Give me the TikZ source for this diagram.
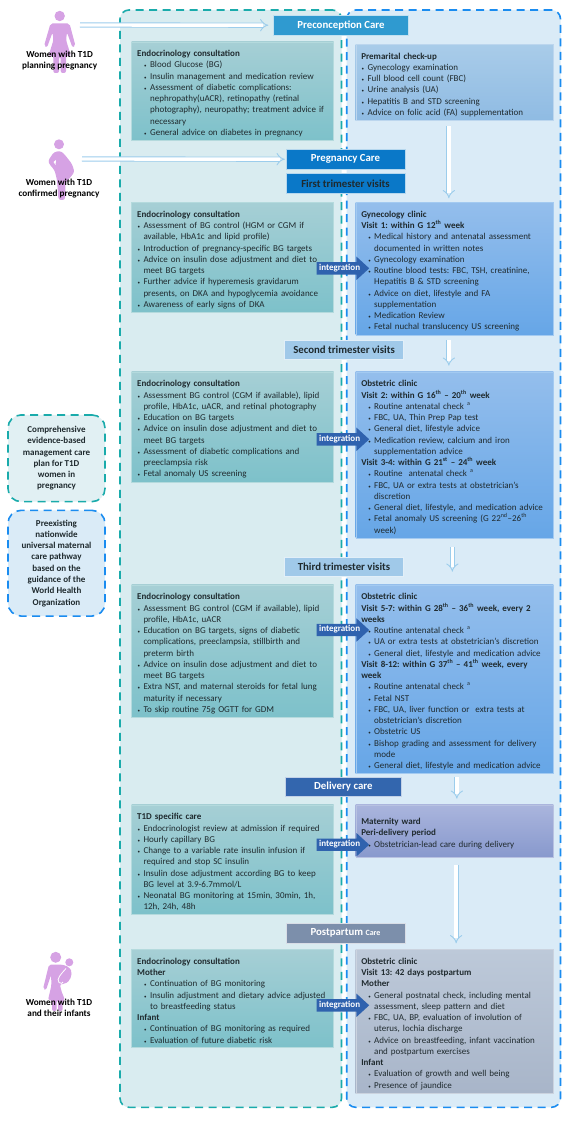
\documentclass[tikz,border=0pt]{standalone}
\usepackage{fontspec}
\setmainfont{Carlito}
\usetikzlibrary{shapes,shapes.arrows,arrows.meta,positioning,calc}
\definecolor{endoline}{HTML}{1AABAB}
\definecolor{obsline}{HTML}{1A8CF0}
\definecolor{endofill}{HTML}{D9ECF0}
\definecolor{obsfill}{HTML}{DAEBF7}
\definecolor{figpink}{HTML}{D6A2E4}
\definecolor{flowblue}{HTML}{9CCDEC}
\definecolor{txtdark}{HTML}{1F2A2E}
\definecolor{integblue}{HTML}{2F62AE}
\definecolor{tealhi}{HTML}{A6CFD5}
\definecolor{teallo}{HTML}{7DC1CA}
\definecolor{tealedge}{HTML}{B4DADD}
\definecolor{prehi}{HTML}{A9CCE9}
\definecolor{prelo}{HTML}{8FBBE3}
\definecolor{clinhi}{HTML}{94BEEC}
\definecolor{clinlo}{HTML}{66A6E7}
\definecolor{wardhi}{HTML}{AAB5DD}
\definecolor{wardlo}{HTML}{8899CD}
\definecolor{posthi}{HTML}{BDC9D9}
\definecolor{postlo}{HTML}{A8B5C9}
\definecolor{headpre}{HTML}{2F9AD0}
\definecolor{headpreg}{HTML}{0A78C8}
\definecolor{headtri}{HTML}{A0C9E9}
\definecolor{headdel}{HTML}{3366AE}
\definecolor{headpost}{HTML}{7C8FAB}
\newcommand{\bitem}[2][6.3pt]{\par\noindent\hangindent=#1\hangafter=0\llap{{\tiny\textbullet}\hspace{3.4pt}}{\let\\\newline #2\par}}
\newcommand{\headline}[1]{\par\noindent{\let\\\newline\bfseries #1\par}}
\newcommand{\sups}[1]{\textsuperscript{#1}}

\begin{document}
\begin{tikzpicture}[x=1pt,y=-1pt,
    endopanel/.style={draw=endoline, line width=1.6pt, dash pattern=on 8pt off 5.5pt, fill=endofill, rounded corners=9pt},
    obspanel/.style={draw=obsline, line width=1.6pt, dash pattern=on 8pt off 5.5pt, fill=obsfill, rounded corners=9pt},
    carebox/.style={anchor=north west, inner xsep=5.6pt, inner ysep=3.6pt, text=txtdark, font=\fontsize{9}{11.25}\selectfont\frenchspacing},
    tealbox/.style={carebox, draw=tealedge, top color=tealhi, bottom color=teallo, text width=190.8pt},
    clinbox/.style n args={2}{carebox, draw=#2!60!white, top color=#1, bottom color=#2, text width=186.5pt},
    heading/.style={minimum height=19.7pt, font=\fontsize{10.8}{12}\selectfont\bfseries, text=white, draw=white!70!#1, line width=.4pt, fill=#1},
    flow/.style={double=white, double distance=3.4pt, line width=.9pt, draw=flowblue, -{Implies[length=6pt]}, shorten >=4pt, shorten <=4pt},
    integ/.style={single arrow, anchor=west, fill=integblue, inner xsep=1pt, inner ysep=2pt, text height=5.8pt, text depth=2.2pt, minimum width=23pt, minimum height=52.5pt, single arrow head extend=5.5pt, single arrow tip angle=85, text=white, font=\fontsize{9}{10}\selectfont\bfseries},
    whois/.style={align=center, text=black, font=\fontsize{9.2}{11.3}\selectfont\bfseries},
    planbox/.style={rounded corners=13pt, line width=1.6pt, dash pattern=on 8pt off 5.5pt, align=center, text=txtdark, minimum width=97pt, font=\fontsize{9}{11.3}\selectfont\bfseries},
]
\useasboundingbox (0,0) rectangle (577,1123);

\node[endopanel, minimum width=221.5pt, minimum height=1097.3pt] (endoPanel) at (230.75,558.65) {};
\node[obspanel, minimum width=213.8pt, minimum height=1097.3pt] (obsPanel) at (453.6,558.65) {};

% left column
\node[tealbox, minimum height=97.3pt] (endoPre) at (131.4,41.7) {%
\headline{Endocrinology consultation}
\bitem[12.9pt]{Blood Glucose (BG)}
\bitem[12.9pt]{Insulin management and medication review}
\bitem[12.9pt]{Assessment of diabetic complications:\\nephropathy(uACR), retinopathy (retinal\\photography), neuropathy; treatment advice if\\necessary}
\bitem[12.9pt]{General advice on diabetes in pregnancy}};

\node[tealbox, minimum height=108pt] (endoFirst) at (131.4,202.3) {%
\headline{Endocrinology consultation}
\bitem{Assessment of BG control (HGM or CGM if\\available, HbA1c and lipid profile)}
\bitem{Introduction of pregnancy-specific BG targets}
\bitem{Advice on insulin dose adjustment and diet to\\meet BG targets}
\bitem{Further advice if hyperemesis gravidarum\\presents, on DKA and hypoglycemia avoidance}
\bitem{Awareness of early signs of DKA}};

\node[tealbox, minimum height=108.3pt] (endoSecond) at (131.4,371.7) {%
\headline{Endocrinology consultation}
\bitem{Assessment BG control (CGM if available), lipid\\profile, HbA1c, uACR, and retinal photography}
\bitem{Education on BG targets}
\bitem{Advice on insulin dose adjustment and diet to\\meet BG targets}
\bitem{Assessment of diabetic complications and\\preeclampsia risk}
\bitem{Fetal anomaly US screening}};

\node[tealbox, minimum height=131pt] (endoThird) at (131.4,584.7) {%
\headline{Endocrinology consultation}
\bitem{Assessment BG control (CGM if available), lipid\\profile, HbA1c, uACR}
\bitem{Education on BG targets, signs of diabetic\\complications, preeclampsia, stillbirth and\\preterm birth}
\bitem{Advice on insulin dose adjustment and diet to\\meet BG targets}
\bitem{Extra NST, and maternal steroids for fetal lung\\maturity if necessary}
\bitem{To skip routine 75g OGTT for GDM}};

\node[tealbox, minimum height=108.6pt] (endoDelivery) at (131.4,804.7) {%
\headline{T1D specific care}
\bitem{Endocrinologist review at admission if required}
\bitem{Hourly capillary BG}
\bitem{Change to a variable rate insulin infusion if\\required and stop SC insulin}
\bitem{Insulin dose adjustment according BG to keep\\BG level at 3.9-6.7mmol/L}
\bitem{Neonatal BG monitoring at 15min, 30min, 1h,\\12h, 24h, 48h}};

\node[tealbox, minimum height=97.4pt] (endoPost) at (131.4,949.3) {%
\headline{Endocrinology consultation}
\headline{Mother}
\bitem[12.9pt]{Continuation of BG monitoring}
\bitem[12.9pt]{Insulin adjustment and dietary advice adjusted\\to breastfeeding status}
\headline{Infant}
\bitem[12.9pt]{Continuation of BG monitoring as required}
\bitem[12.9pt]{Evaluation of future diabetic risk}};

% right column
\node[clinbox={prehi}{prelo}, minimum height=74pt] (preMarital) at (355.5,44) {%
\headline{Premarital check-up}
\bitem{Gynecology examination}
\bitem{Full blood cell count (FBC)}
\bitem{Urine analysis (UA)}
\bitem{Hepatitis B and STD screening}
\bitem{Advice on folic acid (FA) supplementation}};

\node[clinbox={clinhi}{clinlo}, minimum height=131pt] (gynClinic) at (355.5,202.3) {%
\headline{Gynecology clinic}
\headline{Visit 1: within G 12\sups{th} week}
\bitem[12.9pt]{Medical history and antenatal assessment\\documented in written notes}
\bitem[12.9pt]{Gynecology examination}
\bitem[12.9pt]{Routine blood tests: FBC, TSH, creatinine,\\Hepatitis B \& STD screening}
\bitem[12.9pt]{Advice on diet, lifestyle and FA\\supplementation}
\bitem[12.9pt]{Medication Review}
\bitem[12.9pt]{Fetal nuchal translucency US screening}};

\node[clinbox={clinhi}{clinlo}, minimum height=165pt] (obsSecond) at (355.5,371.7) {%
\headline{Obstetric clinic}
\headline{Visit 2: within G 16\sups{th} -- 20\sups{th} week}
\bitem[12.9pt]{Routine antenatal check \sups{a}}
\bitem[12.9pt]{FBC, UA, Thin Prep Pap test}
\bitem[12.9pt]{General diet, lifestyle advice}
\bitem[12.9pt]{Medication review, calcium and iron\\supplementation advice}
\headline{Visit 3-4: within G 21\sups{st} -- 24\sups{th} week}
\bitem[12.9pt]{Routine\ \ antenatal check \sups{a}}
\bitem[12.9pt]{FBC, UA or extra tests at obstetrician’s\\discretion}
\bitem[12.9pt]{General diet, lifestyle, and medication advice}
\bitem[12.9pt]{Fetal anomaly US screening (G 22\sups{nd}--26\sups{th}\\week)}};

\node[clinbox={clinhi}{clinlo}, minimum height=187pt] (obsThird) at (355.5,584.7) {%
\headline{Obstetric clinic}
\headline{Visit 5-7: within G 28\sups{th} -- 36\sups{th} week, every 2\\weeks}
\bitem[12.9pt]{Routine antenatal check \sups{a}}
\bitem[12.9pt]{UA or extra tests at obstetrician’s discretion}
\bitem[12.9pt]{General diet, lifestyle and medication advice}
\headline{Visit 8-12: within G 37\sups{th} -- 41\sups{th} week, every\\week}
\bitem[12.9pt]{Routine antenatal check \sups{a}}
\bitem[12.9pt]{Fetal NST}
\bitem[12.9pt]{FBC, UA, liver function or\ \ extra tests at\\obstetrician’s discretion}
\bitem[12.9pt]{Obstetric US}
\bitem[12.9pt]{Bishop grading and assessment for delivery\\mode}
\bitem[12.9pt]{General diet, lifestyle and medication advice}};

\node[clinbox={wardhi}{wardlo}, minimum height=52pt] (matWard) at (355.5,804.7) {%
\headline{Maternity ward}
\headline{Peri-delivery period}
\bitem[12.9pt]{Obstetrician-lead care during delivery}};

\node[clinbox={posthi}{postlo}, minimum height=142.7pt] (obsPost) at (355.5,949.3) {%
\headline{Obstetric clinic}
\headline{Visit 13: 42 days postpartum}
\headline{Mother}
\bitem[12.9pt]{General postnatal check, including mental\\assessment, sleep pattern and diet}
\bitem[12.9pt]{FBC, UA, BP, evaluation of involution of\\uterus, lochia discharge}
\bitem[12.9pt]{Advice on breastfeeding, infant vaccination\\and postpartum exercises}
\headline{Infant}
\bitem[12.9pt]{Evaluation of growth and well being}
\bitem[12.9pt]{Presence of jaundice}};

% stage headings
\node[heading={headpre}, minimum width=135pt] (preHead) at (341,25.2) {Preconception Care};
\node[heading={headpreg}, minimum width=119pt] (pregHead) at (345.5,159.2) {Pregnancy Care};
\node[heading={headpreg}, minimum width=119pt, text=txtdark] (firstHead) at (345.5,183.5) {First trimester visits};
\node[heading={headtri}, minimum width=119pt, text=txtdark] (secondHead) at (344.1,349.7) {Second trimester visits};
\node[heading={headtri}, minimum width=119pt, text=txtdark] (thirdHead) at (344,566.7) {Third trimester visits};
\node[heading={headdel}, minimum width=115.3pt] (delivHead) at (343.3,786.7) {Delivery care};
\node[heading={headpost}, minimum width=119.6pt] (postHead) at (345.5,932.9) {Postpartum {\fontsize{8}{10}\selectfont Care}};

% integration arrows
\node[integ] (intFirst) at (316.5,268.3) {integration};
\node[integ] (intSecond) at (316.5,439.3) {integration};
\node[integ] (intThird) at (316.5,630) {integration};
\node[integ] (intDeliv) at (316.5,844.7) {integration};
\node[integ] (intPost) at (316.5,1005.3) {integration};

% flow arrows
\draw[flow, shorten <=5pt, shorten >=4pt] ([xshift=-5.7pt]preMarital.south) -- ([xshift=-5.7pt]gynClinic.north);
\draw[flow, shorten <=5pt, shorten >=6pt] ([xshift=-5.7pt]gynClinic.south) -- ([xshift=-5.7pt]obsSecond.north);
\draw[flow, shorten <=9pt, shorten >=13pt] ([xshift=-2.2pt]obsSecond.south) -- ([xshift=-2.2pt]obsThird.north);
\draw[flow, shorten <=3pt, shorten >=6pt] ([xshift=2.3pt]obsThird.south) -- ([xshift=2.3pt]matWard.north);
\draw[flow, shorten <=8pt, shorten >=6pt] ([xshift=1.6pt]matWard.south) -- ([xshift=1.6pt]obsPost.north);

% women
\coordinate (figPlan) at (80,25);
\coordinate (figConf) at (82,159);
\draw[flow, shorten <=0pt, shorten >=5pt] (figPlan) -- (preHead.west);
\draw[flow, shorten <=0pt, shorten >=1pt] (figConf) -- (pregHead.west);

\fill[figpink] (59.7,16) circle (5.2pt);
\fill[figpink, rounded corners=2pt] (50.5,23.5) -- (69.5,23.5) -- (75.5,46) -- (72.5,47.5) -- (67,32.5) -- (66,40) -- (71,56) -- (66,56) -- (66,73) -- (60.7,73) -- (60.7,57) -- (59,57) -- (59,73) -- (53.3,73) -- (53.3,56) -- (48.5,56) -- (53.5,40) -- (52.5,32.5) -- (47,47.5) -- (44,46) -- cycle;

\fill[figpink] (59,144.3) circle (5pt);
\fill[figpink, rounded corners=2.5pt] (54,152) -- (61,151) -- (65,155) -- (72,164) -- (74.5,172) -- (69,179) -- (65.5,182) -- (65,200) -- (58.5,200) -- (57,180) -- (54.5,170) -- (50,165) -- (48,161) -- cycle;
\fill[white] (53.5,162) -- (56,160) -- (55.5,165) -- cycle;

\fill[figpink] (55.7,957.3) circle (5.5pt);
\fill[figpink] (69.3,962.3) circle (4pt);
\fill[figpink, rounded corners=2pt] (49,964.5) -- (62,964.5) -- (69,967) -- (72,972) -- (70,980) -- (65,984) -- (60,984) -- (61,990) -- (65,1000) -- (62.7,1000) -- (62.7,1011) -- (58,1011) -- (58,1000) -- (56.7,1000) -- (56.7,1011) -- (52,1011) -- (52,1000) -- (48,1000) -- (51.5,985) -- (51,975) -- (46,990) -- (43,989) -- cycle;
\draw[white, line width=.8pt] (66,968.5) .. controls (61,974) and (56,979) .. (59,982.5) .. controls (61,984) and (63,983.5) .. (63,982);
\fill[figpink] (67,979.7) circle (2pt);

\node[whois] (planLabel) at (59.6,60.8) {Women with T1D\\planning pregnancy};
\node[whois] (confLabel) at (59,188.3) {Women with T1D\\confirmed pregnancy};
\node[whois] (infLabel) at (59,1007.7) {Women with T1D\\and their infants};

% legend boxes
\node[planbox, draw=endoline, fill=endofill!80!white, minimum height=86.7pt] (compPlan) at (56.5,458.3) {Comprehensive\\evidence-based\\management care\\plan for T1D\\women in\\pregnancy};
\node[planbox, draw=obsline, fill=obsfill, minimum height=105.7pt] (uniPath) at (56.5,563.2) {Preexisting\\nationwide\\universal maternal\\care pathway\\based on the\\guidance of the\\World Health\\Organization};
\end{tikzpicture}
\end{document}
